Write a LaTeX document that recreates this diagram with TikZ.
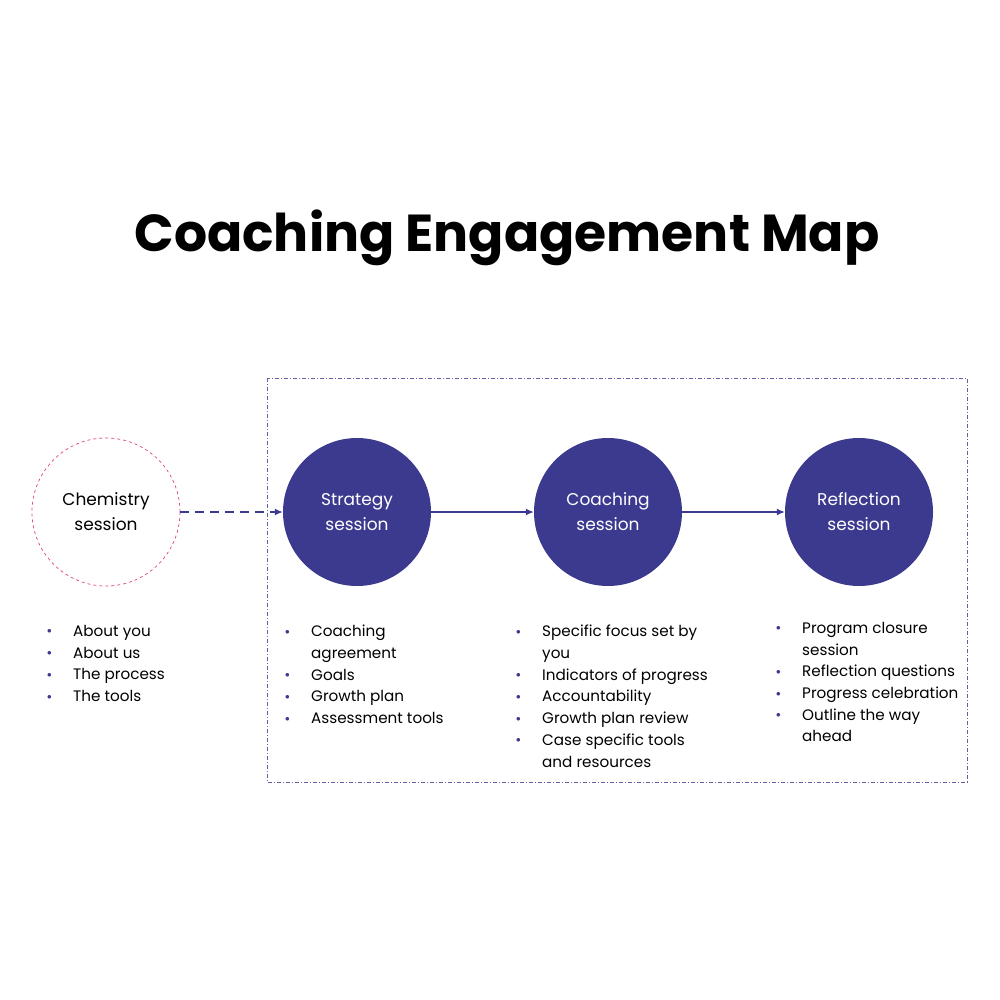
\documentclass[tikz,border=0pt]{standalone}
\usepackage{fontspec}
\setmainfont{Poppins}
\usetikzlibrary{arrows.meta}
\begin{document}
\begin{tikzpicture}[x=1pt,y=-1pt,
  dot/.style={circle,fill=navy,minimum size=148pt,inner sep=0pt,text=white,align=center,font=\fontsize{17}{25}\selectfont},
  lst/.style={anchor=north west,align=left,font=\fontsize{15.2}{21.7}\selectfont,inner sep=0pt},
  conn/.style={navy,line width=1.3pt,-{Latex[length=8pt,width=7pt]}}]
\definecolor{navy}{HTML}{3B3A8F}
\definecolor{pinkd}{HTML}{E0457B}
\useasboundingbox (0,0) rectangle (1000,1000);
\node[font=\fontsize{52}{56}\selectfont\bfseries] (title) at (507,238) {Coaching Engagement Map};
\draw[navy!80,line width=0.7pt,dash pattern=on 4pt off 2pt on 1pt off 2pt] (267,378) rectangle (967,782);
\node[circle,draw=pinkd,dashed,line width=0.7pt,minimum size=148pt,inner sep=0pt,align=center,font=\fontsize{17}{25}\selectfont] (chem) at (106,512) {Chemistry\\session};
\node[dot] (strat) at (357,512) {Strategy\\session};
\node[dot] (coach) at (608,512) {Coaching\\session};
\node[dot] (refl) at (859,512) {Reflection\\session};
\draw[conn,dash pattern=on 9pt off 6pt] (chem) -- (strat);
\draw[conn] (strat) -- (coach);
\draw[conn] (coach) -- (refl);
\newcommand{\bl}{\makebox[26pt][l]{\textcolor{navy}{\raisebox{2.5pt}{\fontsize{9}{9}\selectfont$\bullet$}}}}
\node[lst] (l1) at (47,625) {\bl About you\\\bl About us\\\bl The process\\\bl The tools};
\node[lst] (l2) at (285,625) {\bl Coaching\\\hphantom{\bl}agreement\\\bl Goals\\\bl Growth plan\\\bl Assessment tools};
\node[lst] (l3) at (516,625) {\bl Specific focus set by\\\hphantom{\bl}you\\\bl Indicators of progress\\\bl Accountability\\\bl Growth plan review\\\bl Case specific tools\\\hphantom{\bl}and resources};
\node[lst] (l4) at (776,622) {\bl Program closure\\\hphantom{\bl}session\\\bl Reflection questions\\\bl Progress celebration\\\bl Outline the way\\\hphantom{\bl}ahead};
\end{tikzpicture}
\end{document}
